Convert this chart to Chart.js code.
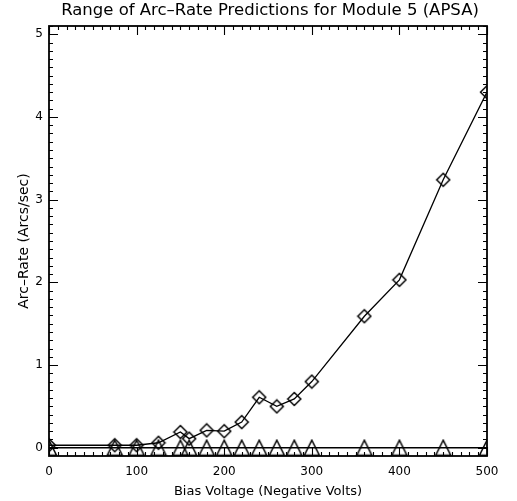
<!DOCTYPE html>
<html>
<head>
<meta charset="utf-8">
<script src="https://cdn.jsdelivr.net/npm/chart.js@4"></script>
<style>
  html, body { margin: 0; padding: 0; background: #fff; }
  canvas { display: block; }
</style>
</head>
<body>
<canvas id="c" width="517" height="501"></canvas>
<script>
// ---- data ----
const biasVoltage = [0, 75, 100, 125, 150, 160, 180, 200, 220, 240, 260, 280, 300, 360, 400, 450, 500];
const upperArcRate = [0.03, 0.03, 0.03, 0.06, 0.19, 0.11, 0.21, 0.20, 0.31, 0.61, 0.50, 0.59, 0.80, 1.59, 2.03, 3.24, 4.30];
const lowerArcRate = [0.0, 0.0, 0.0, 0.0, 0.0, 0.0, 0.0, 0.0, 0.0, 0.0, 0.0, 0.0, 0.0, 0.0, 0.0, 0.0, 0.0];
const xTickValues = [0, 100, 200, 300, 400, 500];
const yTickValues = [0, 1, 2, 3, 4, 5];
const titleText = 'Range of Arc\u2013Rate Predictions for Module 5 (APSA)';
const xTitleText = 'Bias Voltage (Negative Volts)';
const yTitleText = 'Arc\u2013Rate (Arcs/sec)';

const FONT = '"DejaVu Sans", "Liberation Sans", sans-serif';

// IDL-like open symbols (centered on the data point)
function makeTriangle(size, lw) {
  const c = document.createElement('canvas');
  c.width = size; c.height = size;
  const g = c.getContext('2d');
  g.strokeStyle = '#000';
  g.lineWidth = lw;
  g.beginPath();
  g.moveTo(lw, size - lw);
  g.lineTo(size / 2, lw);
  g.lineTo(size - lw, size - lw);
  g.closePath();
  g.stroke();
  return c;
}
function makeDiamond(size, lw) {
  const c = document.createElement('canvas');
  c.width = size; c.height = size;
  const g = c.getContext('2d');
  g.strokeStyle = '#000';
  g.lineWidth = lw;
  const h = size / 2;
  g.beginPath();
  g.moveTo(h, lw);
  g.lineTo(size - lw, h);
  g.lineTo(h, size - lw);
  g.lineTo(lw, h);
  g.closePath();
  g.stroke();
  return c;
}
const triImg = makeTriangle(18, 1.5);
const diaImg = makeDiamond(16, 1.5);

const idlFrame = {
  id: 'idlFrame',
  afterDatasetsDraw(chart) {
    const { ctx, chartArea: a, scales: { x, y } } = chart;
    ctx.save();
    ctx.strokeStyle = '#000';
    ctx.lineWidth = 1.1;
    ctx.beginPath();
    // x ticks every 10, major every 100
    for (let k = 0; k <= 50; k++) {
      const px = Math.round(x.getPixelForValue(k * 10)) + 0.5;
      const L = (k % 10 === 0) ? 9 : 4;
      ctx.moveTo(px, a.bottom); ctx.lineTo(px, a.bottom - L);
      ctx.moveTo(px, a.top); ctx.lineTo(px, a.top + L);
    }
    // y ticks every 0.1, major every 1
    for (let k = 0; k <= 51; k++) {
      const py = Math.round(y.getPixelForValue(k / 10)) + 0.5;
      const L = (k % 10 === 0) ? 9 : 4;
      ctx.moveTo(a.left, py); ctx.lineTo(a.left + L, py);
      ctx.moveTo(a.right, py); ctx.lineTo(a.right - L, py);
    }
    ctx.stroke();
    ctx.lineWidth = 1.8;
    ctx.strokeRect(a.left, a.top, a.right - a.left, a.bottom - a.top);
    // title centred over the plot box
    ctx.fillStyle = '#000';
    ctx.font = '16.5px ' + FONT;
    ctx.textAlign = 'center';
    ctx.textBaseline = 'alphabetic';
    ctx.fillText(titleText, (a.left + a.right) / 2 + 2, 15);
    ctx.restore();
  }
};

new Chart(document.getElementById('c'), {
  type: 'line',
  data: {
    labels: biasVoltage,
    datasets: [
      {
        label: 'Upper',
        data: biasVoltage.map((v, i) => ({ x: v, y: upperArcRate[i] })),
        borderColor: '#000',
        borderWidth: 1.3,
        pointStyle: diaImg,
        pointRadius: 8,
        tension: 0,
        clip: 0
      },
      {
        label: 'Lower',
        data: biasVoltage.map((v, i) => ({ x: v, y: lowerArcRate[i] })),
        borderColor: '#000',
        borderWidth: 1.3,
        pointStyle: triImg,
        pointRadius: 9,
        tension: 0,
        clip: 0
      }
    ]
  },
  options: {
    responsive: false,
    animation: false,
    devicePixelRatio: 1,
    layout: { padding: { left: 0, right: 30, top: 26, bottom: 0 } },
    plugins: {
      legend: { display: false },
      tooltip: { enabled: false },
      title: { display: false }
    },
    scales: {
      x: {
        type: 'linear',
        min: 0,
        max: 500,
        grid: { display: false, drawTicks: false },
        border: { display: false },
        afterBuildTicks: s => { s.ticks = xTickValues.map(v => ({ value: v })); },
        afterFit: s => { s.height = 45; },
        ticks: {
          color: '#000',
          padding: 9,
          maxRotation: 0,
          font: { family: FONT, size: 12 }
        },
        title: {
          display: true,
          text: xTitleText,
          color: '#000',
          font: { family: FONT, size: 13 },
          padding: { top: 0, bottom: 2 }
        }
      },
      y: {
        type: 'linear',
        min: -0.1,
        max: 5.1,
        grid: { display: false, drawTicks: false },
        border: { display: false },
        afterBuildTicks: s => { s.ticks = yTickValues.map(v => ({ value: v })); },
        afterFit: s => { s.width = 49; },
        ticks: {
          color: '#000',
          padding: 6,
          font: { family: FONT, size: 12 }
        },
        title: {
          display: true,
          text: yTitleText,
          color: '#000',
          font: { family: FONT, size: 14 },
          padding: { top: 16, bottom: 0 }
        }
      }
    }
  },
  plugins: [idlFrame]
});
</script>
</body>
</html>
